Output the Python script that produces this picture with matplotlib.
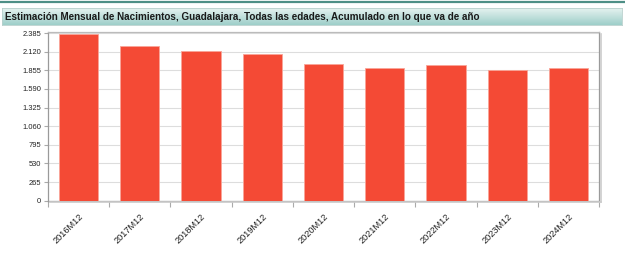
import matplotlib.pyplot as plt
import numpy as np
from matplotlib.ticker import FixedLocator, FuncFormatter
from matplotlib.transforms import ScaledTranslation

# data
periodos = ['2016M12', '2017M12', '2018M12', '2019M12', '2020M12',
            '2021M12', '2022M12', '2023M12', '2024M12']
nacimientos = [2371, 2204, 2125, 2091, 1948, 1887, 1925, 1854, 1891]
yticks = [0, 265, 530, 795, 1060, 1325, 1590, 1855, 2120, 2385]
titulo = 'Estimación Mensual de Nacimientos, Guadalajara, Todas las edades, Acumulado en lo que va de año'

plt.rcParams['font.family'] = ['Liberation Sans', 'DejaVu Sans']

W, H = 625, 261
fig = plt.figure(figsize=(W / 100, H / 100), dpi=100)

# header band with gradient
hdr = fig.add_axes([2 / W, 1 - 25 / H, 620 / W, 17 / H])
grad = np.linspace(0, 1, 50).reshape(-1, 1)
top_c = np.array([0.90, 0.95, 0.94])
bot_c = np.array([0.62, 0.81, 0.79])
img = top_c + (bot_c - top_c) * grad[:, :, None]
hdr.imshow(img, aspect='auto', extent=[0, 1, 0, 1], origin='upper')
hdr.set_xlim(0, 1)
hdr.set_ylim(0, 1)
hdr.set_xticks([])
hdr.set_yticks([])
for s in hdr.spines.values():
    s.set_color('#b8d0cc')
    s.set_linewidth(0.6)
hdr.text(3 / 620, 0.48, titulo, fontsize=7.1, color='#1a1a1a',
         va='center', ha='left', fontweight='bold')

# top line
fig.add_artist(plt.Line2D([0, 1], [1 - 2 / H, 1 - 2 / H], color='#4e8f86', lw=1.6))

# plot area
left, right, top, bottom = 48, 599, 32, 200.7
ax = fig.add_axes([left / W, 1 - bottom / H, (right - left) / W, (bottom - top) / H])

# shadow for the frame
fig.add_artist(plt.Line2D([(right + 1.5) / W, (right + 1.5) / W],
                          [1 - (bottom + 1.5) / H, 1 - (top + 2) / H],
                          color='#cccccc', lw=1.2))
fig.add_artist(plt.Line2D([(left + 2) / W, (right + 1.5) / W],
                          [1 - (bottom + 1.5) / H, 1 - (bottom + 1.5) / H],
                          color='#cccccc', lw=1.2))

x = np.arange(len(periodos))
ax.bar(x, nacimientos, width=0.64, color='#f44a35', edgecolor='#f9a598',
       linewidth=0.6, zorder=3)

ax.set_xlim(-0.5, len(periodos) - 0.5)
ax.set_ylim(0, 2385 * 168.7 / 167.7)
ax.yaxis.set_major_locator(FixedLocator(yticks))
ax.yaxis.set_major_formatter(FuncFormatter(lambda v, p: f'{int(v):,}'.replace(',', '.')))
ax.grid(axis='y', color='#dddddd', linewidth=0.8, zorder=0)

ax.set_xticks(x)
ax.set_xticklabels(periodos, rotation=45, ha='right', rotation_mode='anchor',
                   fontsize=6.6, color='#222222')
shift = ScaledTranslation(4 / 100, -3 / 100, fig.dpi_scale_trans)
for lab in ax.get_xticklabels():
    lab.set_transform(lab.get_transform() + shift)
ax.tick_params(axis='x', which='major', length=0, pad=8)
ax.set_xticks(np.arange(len(periodos) + 1) - 0.5, minor=True)
ax.tick_params(axis='x', which='minor', length=4, color='#aaaaaa', width=0.8)
ax.tick_params(axis='y', length=3, color='#aaaaaa', width=0.8,
               labelsize=5.4, labelcolor='#222222', pad=2)

for name, s in ax.spines.items():
    s.set_color('#9a9a9a')
    s.set_linewidth(0.9)
ax.spines['top'].set_color('#bbbbbb')

fig.savefig('out.png', dpi=100)
